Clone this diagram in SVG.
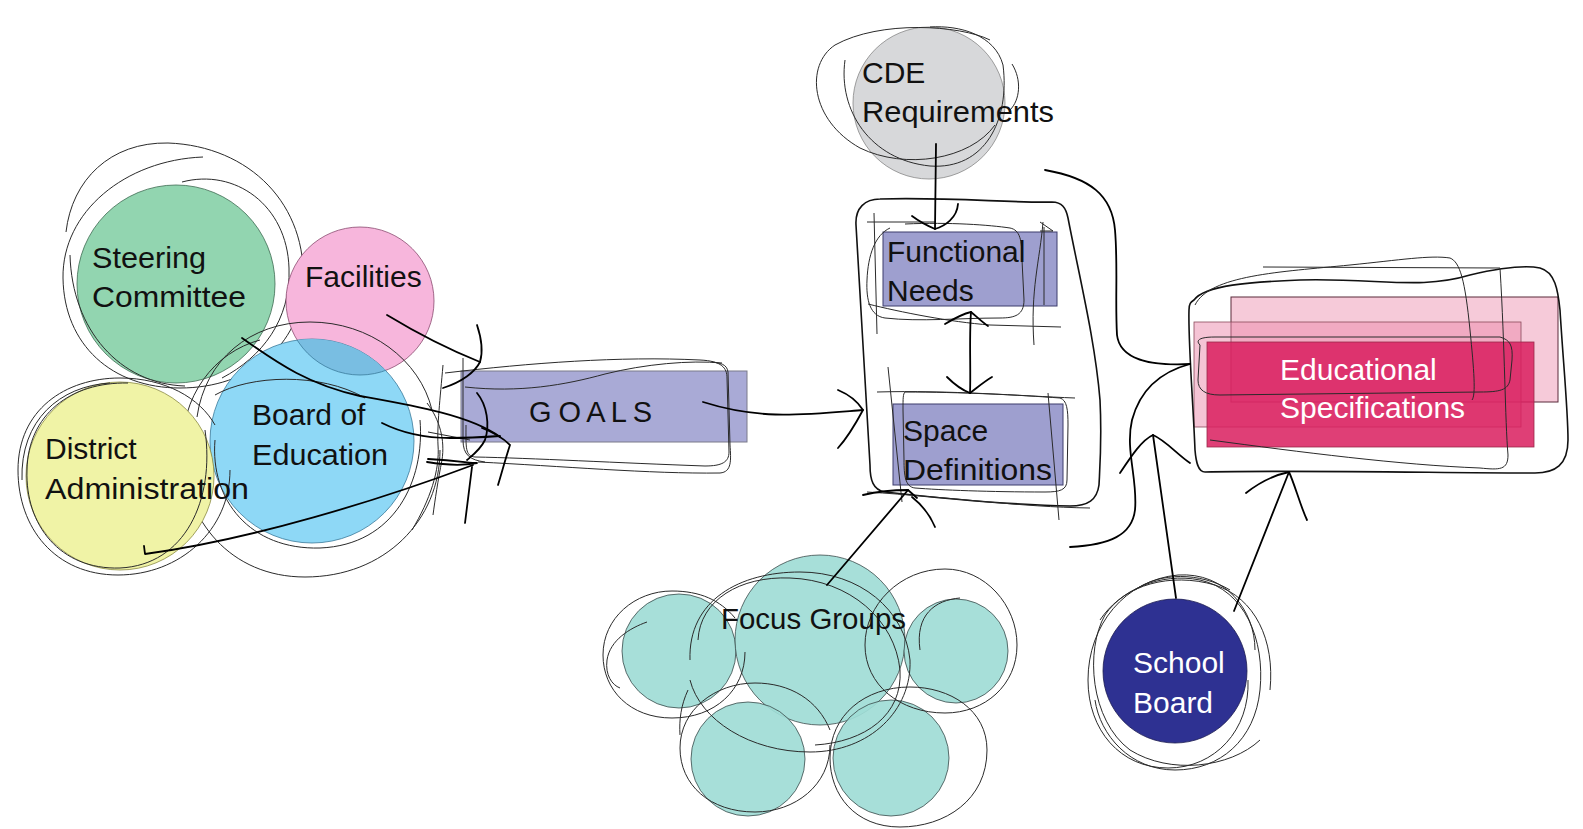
<svg xmlns="http://www.w3.org/2000/svg" width="1583" height="829" viewBox="0 0 1583 829">
<style>
.lbl{font-family:"Liberation Sans",Arial,sans-serif;font-size:30px;fill:#111}
.wl{fill:#fff}
.sk{fill:none;stroke:#2a2a2a;stroke-width:1}
.skb{fill:none;stroke:#111;stroke-width:1.6;stroke-linecap:round}
.cn{fill:none;stroke:#000;stroke-width:1.8;stroke-linecap:round;stroke-linejoin:round}
.ol{stroke-width:0.8}
</style>
<defs>
<clipPath id="boardClip"><circle cx="312" cy="441" r="102"/></clipPath>
</defs>
<rect width="1583" height="829" fill="#fff"/>

<g id="steering-committee">
<circle cx="176" cy="284" r="99" fill="#92d5b0" stroke="#3d6b52" class="ol"/>
<path class="sk" d="M203,157 C125,160 62,212 63,278 C64,345 112,388 180,388 C250,388 300,345 303,285 C308,205 250,146 168,143 C110,142 72,180 66,232"/>
<path class="sk" d="M182,182 C235,168 287,205 289,268 C291,320 262,357 222,378"/>
<path class="sk" d="M70,255 C72,330 120,384 185,386"/>
<text class="lbl" x="92" y="268" textLength="114" lengthAdjust="spacingAndGlyphs">Steering</text>
<text class="lbl" x="92" y="307" textLength="154" lengthAdjust="spacingAndGlyphs">Committee</text>
</g>

<g id="facilities">
<circle cx="360" cy="301" r="74" fill="#f7b6dc" stroke="#8a4a70" class="ol"/>
<text class="lbl" x="305" y="287">Facilities</text>
</g>

<g id="board-of-education">
<circle cx="312" cy="441" r="102" fill="#8ed8f6" stroke="#3a7a9a" class="ol"/>
<circle cx="360" cy="301" r="74" fill="#79bee2" stroke="#3a7a9a" class="ol" clip-path="url(#boardClip)"/>
<path class="sk" d="M197,417 C205,360 250,322 310,322 C370,322 420,360 432,410"/>
<path class="sk" d="M440,450 C440,520 385,577 305,577 C230,577 185,520 182,455 C180,395 215,352 260,340"/>
<path class="sk" d="M420,420 C425,480 395,545 320,548 C250,550 210,500 215,440"/>
<path class="sk" stroke="#3a6a9a" d="M215,395 C250,375 320,372 365,398"/>
<text class="lbl" x="252" y="425">Board of</text>
<text class="lbl" x="252" y="465" textLength="136" lengthAdjust="spacingAndGlyphs">Education</text>
</g>

<g id="district-administration">
<circle cx="120" cy="476" r="94" fill="#f0f3a6" stroke="#8a8a40" class="ol"/>
<path class="sk" d="M230,470 C230,530 180,575 118,575 C55,575 18,528 18,470 C18,410 65,378 120,378 C165,378 200,398 215,425"/>
<path class="sk" d="M205,430 C215,500 185,565 120,568 C60,570 25,525 27,470 C28,415 70,382 128,383"/>
<path class="sk" d="M22,480 C20,420 60,386 110,383"/>
<text class="lbl" x="45" y="459">District</text>
<text class="lbl" x="45" y="499" textLength="204" lengthAdjust="spacingAndGlyphs">Administration</text>
</g>

<g id="goals">
<rect x="461" y="371" width="286" height="71" fill="#a9aad6" stroke="#7a7a8a" stroke-width="1"/>
<path class="sk" stroke="#4a4a7a" d="M465,387 C520,393 565,385 605,374 C645,364 690,360 722,363"/>
<path class="sk" d="M445,373 C530,363 620,356 700,360 C722,361 727,368 727,378 L729,452 C729,462 722,466 705,466 C620,463 530,458 475,457 C465,456 466,448 466,425"/>
<path class="sk" d="M478,462 C560,466 650,474 720,473 C732,472 731,460 730,445 L728,372 C727,364 720,363 712,362"/>
<path class="sk" d="M443,365 C440,400 437,425 438,445 C440,470 430,500 412,530"/>
<path class="sk" d="M427,403 C440,420 445,440 442,460 C438,480 435,500 433,515"/>
<path class="sk" d="M463,358 L463,440 C463,455 470,460 485,462"/>
<path class="sk" d="M428,432 L470,440"/>
<text class="lbl" x="529" y="422" style="font-size:29px" letter-spacing="-0.6">G O A L S</text>
</g>

<g id="cde-requirements">
<circle cx="929" cy="103" r="76" fill="#d7d8da" stroke="#888" class="ol"/>
<path class="sk" d="M990,40 C960,25 880,20 835,45 C805,65 810,120 860,148 C905,170 970,160 995,125"/>
<path class="sk" d="M845,60 C838,110 870,160 930,166 C985,170 1010,120 1003,65 C995,35 960,25 930,27"/>
<path class="sk" d="M1012,64 C1022,80 1020,100 1010,110"/>
<text class="lbl" x="862" y="83">CDE</text>
<text class="lbl" x="862" y="122" textLength="192" lengthAdjust="spacingAndGlyphs">Requirements</text>
</g>

<g id="process-frame">
<path class="skb" d="M880,199 C950,197 1010,203 1052,202 C1062,202 1066,208 1068,218 C1080,280 1095,340 1100,400 C1102,440 1100,465 1099,485 C1097,500 1088,506 1070,506 C1010,505 930,497 885,492 C873,490 870,480 870,465 C866,390 860,300 856,225 C855,208 865,199 880,199 Z"/>
</g>

<g id="functional-needs">
<rect x="883" y="232" width="174" height="74" fill="#9e9fcf" stroke="#3d3d6d" stroke-width="1"/>
<path class="sk" d="M867,222 L935,222"/>
<path class="sk" d="M874,213 L877,334"/>
<path class="sk" d="M905,224 C950,222 990,225 1010,228 C1020,230 1022,240 1022,260 L1024,300 C1024,315 1015,318 1000,318 C960,318 920,322 885,318 C870,316 866,300 867,280 C868,255 875,235 890,228"/>
<path class="sk" d="M868,304 C900,312 950,322 990,325 L1061,327"/>
<path class="sk" d="M1040,222 L1053,231 L1040,231"/>
<path class="sk" d="M1043,222 C1040,260 1030,290 1034,345"/>
<path class="sk" stroke="#3a3a8a" d="M1044,227 L1044,305"/>
<text class="lbl" x="887" y="262">Functional</text>
<text class="lbl" x="887" y="301">Needs</text>
</g>

<g id="space-definitions">
<rect x="893" y="404" width="170" height="81" fill="#9e9fcf" stroke="#3d3d6d" stroke-width="1"/>
<path class="sk" d="M877,392 C950,390 1020,396 1075,398"/>
<path class="sk" d="M905,392 C960,392 1020,395 1060,398 C1067,400 1068,410 1068,425 L1067,480 C1067,490 1060,492 1045,492 C990,492 940,490 915,488 C905,487 904,475 904,460 L903,410 C903,398 903,394 905,392"/>
<path class="sk" d="M888,367 L902,502"/>
<path class="sk" d="M1048,393 L1059,520"/>
<path class="sk" d="M867,492 C950,497 1020,507 1090,508"/>
<text class="lbl" x="903" y="441">Space</text>
<text class="lbl" x="903" y="480" textLength="149" lengthAdjust="spacingAndGlyphs">Definitions</text>
</g>

<g id="focus-groups">
<g fill="#9fdcd6" stroke="#3a4a4a" stroke-width="0.8" fill-opacity="0.92">
<circle cx="679" cy="651" r="57"/>
<circle cx="820" cy="640" r="85"/>
<circle cx="956" cy="651" r="52"/>
<circle cx="748" cy="759" r="57"/>
<circle cx="891" cy="758" r="58"/>
</g>
<path class="sk" d="M745,652 C745,690 715,718 672,718 C630,718 603,690 603,655 C603,618 635,591 672,591 C700,591 720,600 735,618"/>
<path class="sk" stroke="#2a6a6a" d="M647,622 C630,628 610,640 607,660 C605,675 612,685 620,688"/>
<path class="sk" d="M690,660 C688,600 740,572 800,572 C860,572 905,610 910,660 C912,710 870,752 810,752 C750,752 700,720 690,680"/>
<path class="sk" stroke="#2a6a6a" d="M698,640 C700,600 740,576 790,578 C850,580 895,620 900,670 C903,715 865,742 815,745"/>
<path class="sk" d="M1017,645 C1017,685 985,713 945,713 C900,713 865,685 865,645 C865,605 900,569 945,569 C985,569 1017,605 1017,645"/>
<path class="sk" d="M920,650 C915,615 935,600 960,598"/>
<path class="sk" d="M830,745 C830,785 795,812 755,812 C710,812 680,785 680,748 C680,710 715,683 755,683 C790,683 818,700 830,730"/>
<path class="sk" d="M987,750 C987,800 945,827 900,827 C855,827 830,795 830,758 C830,715 865,687 910,687 C950,687 987,710 987,750"/>
<path class="sk" d="M680,735 C679,720 681,705 688,690"/>
<text class="lbl" x="721" y="629" textLength="185" lengthAdjust="spacingAndGlyphs">Focus Groups</text>
</g>

<g id="school-board">
<circle cx="1175" cy="671" r="72" fill="#2e3192" stroke="#1a1a50" class="ol"/>
<path class="sk" d="M1248,680 C1250,730 1215,768 1168,768 C1120,768 1088,730 1088,680 C1088,625 1125,580 1178,575 C1225,572 1255,610 1255,650"/>
<path class="sk" d="M1100,620 C1120,590 1160,572 1200,580 C1245,590 1265,640 1260,690 C1255,740 1220,770 1175,770 C1130,770 1100,735 1095,700"/>
<path class="sk" d="M1270,690 C1275,640 1255,598 1215,585 C1170,572 1125,585 1105,615 C1085,650 1090,720 1130,750 C1170,775 1230,768 1260,740"/>
<path class="sk" d="M1135,590 C1160,572 1200,572 1230,590"/>
<text class="lbl wl" x="1133" y="673">School</text>
<text class="lbl wl" x="1133" y="713">Board</text>
</g>

<g id="educational-specifications">
<rect x="1231" y="297" width="327" height="105" fill="#eb8aab" fill-opacity="0.45" stroke="#5a2a3a" stroke-width="1"/>
<rect x="1194" y="322" width="327" height="105" fill="#eb8aab" fill-opacity="0.5" stroke="#8a4a5a" stroke-width="0.8"/>
<rect x="1207" y="342" width="327" height="105" fill="#da1f60" fill-opacity="0.86" stroke="#9a2a4a" stroke-width="0.8"/>
<path class="sk" stroke="#b04060" d="M1200,345 C1195,340 1200,337 1215,337 L1500,337 C1510,340 1513,345 1512,360 L1510,380 C1508,390 1500,392 1480,392 L1220,395 C1205,395 1198,390 1198,380 Z"/>
<path class="skb" stroke-width="1.4" d="M1194,300 C1205,285 1250,282 1300,280 C1380,278 1420,290 1470,275 C1500,268 1525,265 1540,268 C1555,272 1558,290 1560,310 C1563,360 1568,410 1568,440 C1568,465 1555,473 1535,473 C1450,473 1300,470 1205,472 C1198,472 1196,462 1195,450 C1193,400 1188,340 1189,310 C1189,303 1191,302 1194,300 Z"/>
<path class="sk" d="M1195,305 C1210,275 1280,272 1350,265 C1400,260 1430,255 1450,258 C1460,262 1465,280 1470,330 C1474,370 1476,395 1472,400"/>
<path class="sk" d="M1263,267 L1500,268 C1505,350 1505,420 1508,455 C1508,470 1500,470 1480,468 C1400,465 1300,452 1210,440"/>
<text class="lbl wl" x="1280" y="380">Educational</text>
<text class="lbl wl" x="1280" y="418">Specifications</text>
</g>

<g id="connectors">
<path class="cn" d="M387,315 C420,335 450,350 480,362"/>
<path class="cn" d="M477,325 C482,340 483,352 480,362 C475,372 462,382 443,388"/>
<path class="cn" d="M242,338 C280,365 310,385 360,396 C410,405 470,415 500,437"/>
<path class="cn" d="M382,423 C400,432 420,438 450,438 C470,438 485,437 500,436"/>
<path class="cn" d="M144,546 L145,554 C250,540 380,500 473,465"/>
<path class="cn" d="M477,393 C487,405 490,425 485,440 C480,450 473,455 467,460"/>
<path class="cn" d="M482,428 C495,433 505,440 510,445 C505,460 502,472 498,485"/>
<path class="cn" d="M427,462 C445,465 462,466 477,463 C470,463 460,461 428,459"/>
<path class="cn" d="M472,467 L465,523"/>
<path class="cn" d="M703,402 C760,420 800,415 863,410"/>
<path class="cn" d="M838,390 C850,395 858,402 863,410 C855,425 848,437 838,448"/>
<path class="cn" d="M936,144 L935,229"/>
<path class="cn" d="M912,216 C920,222 928,226 935,229 C945,226 957,218 958,204"/>
<path class="cn" d="M971,312 C969,340 971,370 970,393"/>
<path class="cn" d="M945,324 C955,318 962,314 971,312 C976,316 982,322 988,326"/>
<path class="cn" d="M947,377 C955,385 962,390 970,393 C978,387 985,381 992,377"/>
<path class="cn" d="M827,585 L908,490"/>
<path class="cn" d="M863,495 C880,491 897,490 908,490 L917,498"/>
<path class="cn" d="M912,497 C922,505 930,515 935,527"/>
<path class="cn" d="M1045,170 C1090,178 1112,195 1115,230 C1118,265 1115,300 1117,335 C1120,360 1150,366 1190,364"/>
<path class="cn" d="M1190,364 C1160,372 1140,390 1132,420 C1125,450 1138,480 1135,510 C1132,535 1110,545 1070,547"/>
<path class="cn" d="M1176,598 L1153,435"/>
<path class="cn" d="M1120,473 C1132,455 1142,440 1153,435 C1165,440 1178,455 1190,463"/>
<path class="cn" d="M1234,611 L1289,472"/>
<path class="cn" d="M1246,493 C1260,482 1275,475 1289,472 C1295,485 1300,505 1307,520"/>
</g>
</svg>
